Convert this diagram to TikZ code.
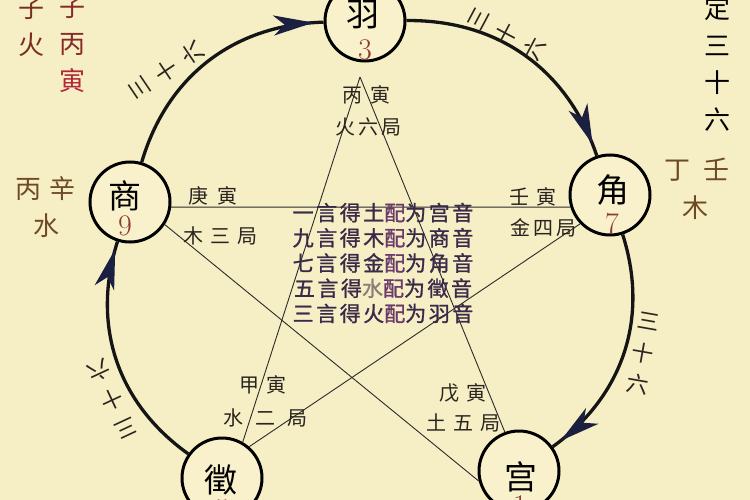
\documentclass[tikz,border=0pt]{standalone}
\usepackage{fontspec}
\usetikzlibrary{arrows.meta,decorations.markings}
\newfontfamily\cjk{Noto Sans CJK SC}
\newfontfamily\cjkw[LetterSpace=12,FakeBold=1.2]{Noto Sans CJK SC}
\definecolor{bg}{HTML}{F6EEC4}
\definecolor{innerfill}{HTML}{F8F1CC}
\definecolor{numred}{HTML}{8E3B2C}
\definecolor{arcink}{HTML}{151515}
\definecolor{navyarrow}{HTML}{1B2040}
\definecolor{starink}{HTML}{2B2B2B}
\definecolor{labink}{HTML}{2A2420}
\definecolor{brownink}{HTML}{6E4A24}
\definecolor{blkink}{HTML}{3A2A4A}
\definecolor{peiink}{HTML}{6A3A6A}
\definecolor{shuiink}{HTML}{8A7E7A}
\definecolor{redA}{HTML}{7A2E22}
\definecolor{redB}{HTML}{862A2A}
\definecolor{redC}{HTML}{B0283A}
\begin{document}
\begin{tikzpicture}[x=1pt,y=1pt,
  yinc/.style={circle, draw=black, line width=3pt, fill=innerfill, minimum size=80pt, inner sep=0pt},
  yinchar/.style={font=\fontsize{33}{35}\cjk, text=black, inner sep=0pt},
  yinnum/.style={font=\fontsize{30}{30}\selectfont, text=numred, inner sep=0pt},
  cyc/.style={line width=3.3pt, draw=arcink},
  arrowmark/.style={postaction={decorate}, decoration={markings, mark=at position #1 with {\arrow{Stealth[length=40pt,width=20pt,inset=11pt,color=navyarrow]}}}},
  star/.style={line width=0.9pt, draw=starink},
  cyclab/.style={font=\fontsize{22}{32}\cjk, align=center, text=labink, inner sep=0pt},
  corner/.style={font=\fontsize{26}{37}\cjk, align=center, inner sep=0pt},
  inlab/.style={font=\fontsize{20}{22}\cjk, text=labink, inner sep=0pt},
  blk/.style={font=\fontsize{21}{25.2}\cjkw, text=blkink, align=center, inner sep=0pt}
]
\useasboundingbox (0,-500) rectangle (750,0);
\clip (0,-500) rectangle (750,0);
\fill[bg] (0,-500) rectangle (750,0);

% nodes
\coordinate (A) at (360,-77);
\node[yinc] (Y) at (365,-21) {};
\node[yinc] (J) at (610,-195) {};
\node[yinc] (S) at (130,-202) {};
\node[yinc] (Z) at (222,-478) {};
\node[yinc] (G) at (519,-471) {};

% star lines
\draw[star] (A) -- (G.110);
\draw[star] (A) -- (Z.60);
\draw[star] (S.-7) -- (J.197);
\draw[star] (S.-33) -- (G.194);
\draw[star] (Z.49) -- (J.224);

% cycle arcs
\draw[cyc, arrowmark=-10pt] (S) to[bend left=36] (Y);
\draw[cyc, arrowmark=-12pt] (Y) to[bend left=36] (J);
\draw[cyc, arrowmark=-10pt] (J) to[bend left=36] (G);
\draw[cyc, arrowmark=-8pt] (Z) to[bend left=36] (S);

% circle texts
\node[yinchar] (Yc) at (363,-15) {羽};
\node[yinnum] (Yn) at (365,-50) {3};
\node[yinchar] (Jc) at (613,-190) {角};
\node[yinnum] (Jn) at (612,-224) {7};
\node[yinchar] (Sc) at (125,-196) {商};
\node[yinnum] (Sn) at (125,-226) {9};
\node[yinchar] (Zc) at (221,-480) {徵};
\node[yinnum] (Zn) at (222,-510) {5};
\node[yinchar] (Gc) at (521,-477) {宫};
\node[yinnum] (Gn) at (520,-506) {1};

% rotated labels along the cycle
\node[cyclab, rotate=124] (L1) at (167,-70) {三\\十\\六};
\node[cyclab, rotate=62] (L2) at (507,-34) {三\\十\\六};
\node[cyclab, rotate=-10] (L3) at (643,-354) {三\\十\\六};
\node[cyclab, rotate=205] (L4) at (112,-399) {三\\十\\六};

% corner texts
\node[corner] (TL1) at (31,-26.5) {\textcolor{redA}{子}\\\textcolor{redA}{火}};
\node[corner] (TL2) at (72,-44.5) {\textcolor{redB}{子}\\\textcolor{redB}{丙}\\\textcolor{redC}{寅}};
\node[corner, text=black] (TR) at (717,-63.5) {定\\三\\十\\六};
\node[corner, text=brownink] (LA) at (45.5,-189) {丙\hspace{9pt}辛};
\node[corner, text=brownink] (LB) at (47,-226) {水};
\node[corner, text=brownink] (RA) at (697,-170) {丁\hspace{14pt}壬};
\node[corner, text=brownink] (RB) at (695,-208) {木};

% inner labels
\node[inlab] (I1a) at (366,-95) {丙\hspace{8pt}寅};
\node[inlab] (I1b) at (368,-127) {火\hspace{3pt}六\hspace{3pt}局};
\node[inlab] (I2a) at (213,-196) {庚\hspace{9pt}寅};
\node[inlab] (I2b) at (220,-236) {木\hspace{7pt}三\hspace{7pt}局};
\node[inlab] (I3a) at (533,-197) {壬\hspace{7pt}寅};
\node[inlab] (I3b) at (543,-228) {金\hspace{3pt}四\hspace{3pt}局};
\node[inlab] (I4a) at (263,-385) {甲\hspace{7pt}寅};
\node[inlab] (I4b) at (265,-418) {水\hspace{12pt}二\hspace{12pt}局};
\node[inlab] (I5a) at (463,-393) {戊\hspace{7pt}寅};
\node[inlab] (I5b) at (463,-423) {土\hspace{7pt}五\hspace{7pt}局};

% central block
\node[blk] (M) at (383,-263) {一言得土\textcolor{peiink}{配}为宫音\\
九言得木\textcolor{peiink}{配}为商音\\
七言得金\textcolor{peiink}{配}为角音\\
五言得\textcolor{shuiink}{水}\textcolor{peiink}{配}为徵音\\
三言得火\textcolor{peiink}{配}为羽音};
\end{tikzpicture}
\end{document}
